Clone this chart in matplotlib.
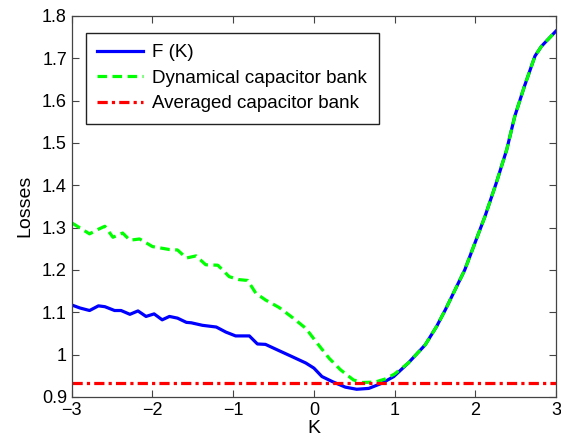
import matplotlib
matplotlib.use("Agg")
import matplotlib.pyplot as plt

plt.rcParams['font.family'] = ['Liberation Sans', 'DejaVu Sans']

blue_k = [-3.0, -2.9, -2.78, -2.67, -2.59, -2.47, -2.39, -2.28, -2.18, -2.08, -1.98, -1.88,
          -1.79, -1.69, -1.58, -1.52, -1.38, -1.21, -1.09, -0.97, -0.80, -0.70, -0.60, -0.43,
          -0.27, -0.10, 0.0, 0.10, 0.23, 0.39, 0.53, 0.68, 0.84, 0.99, 1.17, 1.38, 1.52, 1.63,
          1.87, 2.12, 2.26, 2.39, 2.49, 2.61, 2.74, 2.82, 3.0]
blue_v = [1.117, 1.110, 1.104, 1.115, 1.113, 1.104, 1.104, 1.095, 1.103, 1.090, 1.096, 1.082,
          1.090, 1.086, 1.076, 1.075, 1.069, 1.065, 1.053, 1.044, 1.044, 1.025, 1.024, 1.009,
          0.995, 0.980, 0.968, 0.948, 0.936, 0.923, 0.918, 0.920, 0.932, 0.948, 0.980, 1.023,
          1.066, 1.106, 1.200, 1.326, 1.405, 1.484, 1.563, 1.634, 1.705, 1.728, 1.764]

green_k = [-3.0, -2.78, -2.67, -2.59, -2.49, -2.37, -2.28, -2.16, -2.0, -1.79, -1.69, -1.58,
           -1.46, -1.34, -1.19, -1.05, -0.93, -0.82, -0.72, -0.60, -0.43, -0.27, -0.10, 0.04,
           0.19, 0.33, 0.49, 0.60, 0.76, 0.88, 1.0, 1.17, 1.38, 1.52, 1.63, 1.87, 2.12, 2.26,
           2.39, 2.49, 2.61, 2.74, 2.82, 3.0]
green_v = [1.311, 1.285, 1.296, 1.303, 1.277, 1.287, 1.270, 1.273, 1.255, 1.248, 1.247, 1.228,
           1.233, 1.212, 1.211, 1.184, 1.177, 1.175, 1.145, 1.129, 1.111, 1.088, 1.062, 1.027,
           0.991, 0.964, 0.940, 0.934, 0.935, 0.942, 0.954, 0.980, 1.023, 1.066, 1.106, 1.200,
           1.326, 1.405, 1.484, 1.563, 1.634, 1.705, 1.728, 1.764]

red_k = [-3.0, 3.0]
red_v = [0.932, 0.932]

labels = ['F (K)', 'Dynamical capacitor bank', 'Averaged capacitor bank']
xticks = [-3, -2, -1, 0, 1, 2, 3]
xticklabels = ['\u22123', '\u22122', '\u22121', '0', '1', '2', '3']
yticks = [0.9, 1.0, 1.1, 1.2, 1.3, 1.4, 1.5, 1.6, 1.7, 1.8]
yticklabels = ['0.9', '1', '1.1', '1.2', '1.3', '1.4', '1.5', '1.6', '1.7', '1.8']

fig = plt.figure(figsize=(5.61, 4.40), dpi=100)
ax = fig.add_axes([0.128, 0.098, 0.863, 0.866])

lw = 2.3
ax.plot(blue_k, blue_v, color='#0000ff', lw=lw, label=labels[0])
ax.plot(green_k, green_v, color='#00ff00', lw=lw, dashes=(3.0, 1.7), label=labels[1])
ax.plot(red_k, red_v, color='#ff0000', lw=lw, dashes=(3.2, 1.3, 1.0, 1.3), label=labels[2])

ax.set_xlim(-3, 3)
ax.set_ylim(0.9, 1.8)
ax.set_xticks(xticks)
ax.set_xticklabels(xticklabels)
ax.set_yticks(yticks)
ax.set_yticklabels(yticklabels)
ax.tick_params(direction='in', top=True, right=True, labelsize=13, length=5,
               color='#444444', width=0.8)
for s in ax.spines.values():
    s.set_color('#444444')
    s.set_linewidth(0.9)
ax.set_xlabel('K', fontsize=14, labelpad=1)
ax.set_ylabel('Losses', fontsize=14, labelpad=6)

leg = ax.legend(loc='upper left', bbox_to_anchor=(0.029, 0.955), fontsize=13.5,
                handlelength=2.45, handletextpad=0.5, borderpad=0.6, labelspacing=0.45,
                fancybox=False, framealpha=1, edgecolor='#222222', borderaxespad=0)
leg.get_frame().set_linewidth(1.0)

fig.savefig('out.png', dpi=100)
